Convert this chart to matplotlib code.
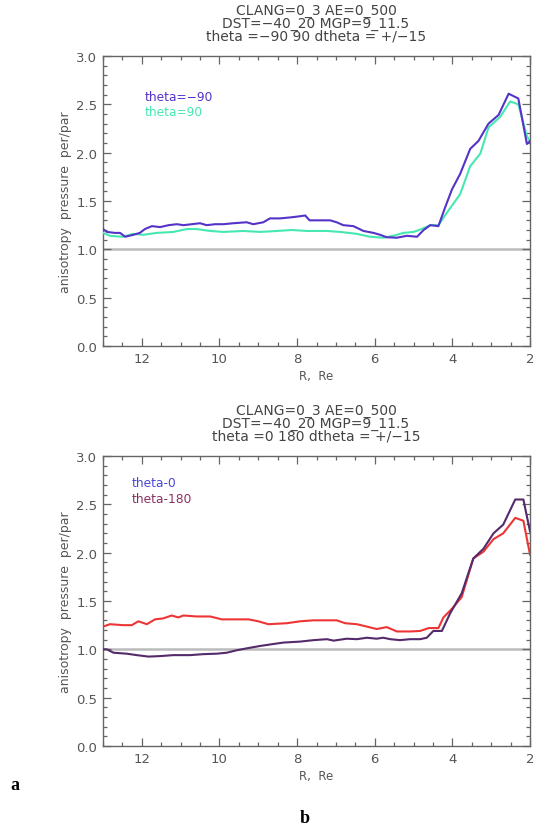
import numpy as np
import matplotlib
matplotlib.use('Agg')
import matplotlib.pyplot as plt
from matplotlib.ticker import MultipleLocator

# panel a: theta = -90 / 90
r_m90 = [13.0, 12.9, 12.69, 12.56, 12.43, 12.22, 12.05, 11.92, 11.74, 11.53, 11.31, 11.10, 10.93, 10.71,
         10.50, 10.33, 10.11, 9.90, 9.64, 9.30, 9.13, 8.87, 8.70, 8.44, 8.18, 7.97, 7.79, 7.68, 7.41, 7.15,
         6.98, 6.81, 6.55, 6.29, 6.03, 5.86, 5.69, 5.43, 5.17, 4.91, 4.74, 4.57, 4.36, 4.19, 4.01, 3.80,
         3.54, 3.33, 3.07, 2.81, 2.55, 2.30, 2.08, 2.0]
a_m90 = [1.21, 1.18, 1.17, 1.17, 1.13, 1.15, 1.17, 1.21, 1.24, 1.23, 1.25, 1.26, 1.25, 1.26,
         1.27, 1.25, 1.26, 1.26, 1.27, 1.28, 1.26, 1.28, 1.32, 1.32, 1.33, 1.34, 1.35, 1.30, 1.30, 1.30,
         1.28, 1.25, 1.24, 1.19, 1.17, 1.15, 1.125, 1.12, 1.14, 1.13, 1.20, 1.25, 1.24, 1.43, 1.62, 1.78,
         2.04, 2.12, 2.30, 2.39, 2.61, 2.56, 2.09, 2.12]

r_p90 = [13.0, 12.82, 12.5, 12.22, 11.96, 11.62, 11.19, 10.84, 10.59, 10.24, 9.90, 9.38, 8.95, 8.52,
         8.14, 7.75, 7.23, 6.89, 6.46, 6.12, 5.78, 5.52, 5.26, 5.00, 4.79, 4.57, 4.36, 4.14, 3.80, 3.54,
         3.28, 3.07, 2.77, 2.51, 2.30, 2.08, 2.0]
a_p90 = [1.17, 1.14, 1.13, 1.16, 1.15, 1.17, 1.18, 1.21, 1.21, 1.19, 1.18, 1.19, 1.18, 1.19,
         1.20, 1.19, 1.19, 1.18, 1.16, 1.13, 1.12, 1.14, 1.17, 1.18, 1.21, 1.25, 1.25, 1.38, 1.57, 1.86,
         1.99, 2.26, 2.37, 2.53, 2.50, 2.17, 2.12]

# panel b: theta = 0 / 180
r_0 = [13.0, 12.9, 12.73, 12.39, 12.13, 11.83, 11.53, 11.19, 10.76, 10.42, 10.07, 9.81, 9.56, 9.30,
       8.95, 8.70, 8.35, 7.92, 7.58, 7.23, 7.06, 6.72, 6.46, 6.20, 5.95, 5.78, 5.60, 5.35, 5.09, 4.83,
       4.66, 4.49, 4.27, 4.06, 3.76, 3.46, 3.20, 2.94, 2.69, 2.38, 2.17, 2.0]
a_0 = [1.0, 1.0, 0.965, 0.955, 0.94, 0.925, 0.93, 0.94, 0.94, 0.95, 0.955, 0.965, 0.99, 1.01,
       1.035, 1.05, 1.07, 1.08, 1.095, 1.105, 1.09, 1.11, 1.105, 1.12, 1.11, 1.12, 1.105, 1.095, 1.105, 1.105,
       1.12, 1.19, 1.19, 1.37, 1.58, 1.94, 2.04, 2.20, 2.29, 2.55, 2.55, 2.22]

r_180 = [13.0, 12.82, 12.48, 12.26, 12.09, 11.87, 11.66, 11.45, 11.23, 11.06, 10.93, 10.59, 10.24, 9.94,
         9.64, 9.25, 9.00, 8.74, 8.27, 7.92, 7.58, 7.32, 6.98, 6.76, 6.46, 6.20, 5.95, 5.69, 5.43, 5.09,
         4.83, 4.61, 4.36, 4.23, 4.01, 3.76, 3.46, 3.20, 2.94, 2.69, 2.38, 2.17, 2.0]
a_180 = [1.235, 1.26, 1.25, 1.25, 1.29, 1.26, 1.31, 1.32, 1.35, 1.33, 1.35, 1.34, 1.34, 1.31,
         1.31, 1.31, 1.29, 1.26, 1.27, 1.29, 1.30, 1.30, 1.30, 1.27, 1.26, 1.235, 1.21, 1.23, 1.185, 1.185,
         1.19, 1.22, 1.22, 1.33, 1.42, 1.54, 1.94, 2.01, 2.14, 2.20, 2.36, 2.33, 1.98]

titles_a = ['CLANG=0_3 AE=0_500', 'DST=\u221240_20 MGP=9_11.5', 'theta =\u221290 90 dtheta = +/\u221215']
titles_b = ['CLANG=0_3 AE=0_500', 'DST=\u221240_20 MGP=9_11.5', 'theta =0 180 dtheta = +/\u221215']

W, H = 539, 828
plt.rcParams['font.family'] = ['DejaVu Sans']
fig = plt.figure(figsize=(W / 100, H / 100), dpi=100)

axc = '#666666'
txc = '#555555'


def px(x, y):
    return x / W, 1 - y / H


def make_axes(top, bottom):
    left, right = 103, 530
    ax = fig.add_axes([left / W, 1 - bottom / H, (right - left) / W, (bottom - top) / H])
    ax.set_xlim(13, 2)
    ax.set_ylim(0, 3)
    ax.xaxis.set_major_locator(MultipleLocator(2))
    ax.xaxis.set_minor_locator(MultipleLocator(0.5))
    ax.yaxis.set_major_locator(MultipleLocator(0.5))
    ax.yaxis.set_minor_locator(MultipleLocator(0.1))
    ax.yaxis.set_major_formatter(matplotlib.ticker.FormatStrFormatter('%.1f'))
    ax.tick_params(which='both', direction='in', top=True, right=True, color=axc,
                   labelcolor=txc, labelsize=9.5, width=0.9)
    ax.tick_params(which='major', length=6, pad=4)
    ax.tick_params(which='minor', length=3)
    for s in ax.spines.values():
        s.set_color(axc)
        s.set_linewidth(1.0)
    ax.axhline(1.0, color='#bbbbbb', lw=1.8, zorder=1)
    ax.set_xlabel('R,  Re', fontsize=8.5, color=txc, labelpad=3)
    ax.set_ylabel('anisotropy  pressure  per/par', fontsize=9, color=txc, labelpad=3)
    return ax


# panel a
ax1 = make_axes(57, 347)
ax1.plot(r_p90, a_p90, color='#46e8b2', lw=1.5, zorder=3)
ax1.plot(r_m90, a_m90, color='#5533c8', lw=1.5, zorder=4)
ax1.text(0.098, 0.86, 'theta=\u221290', transform=ax1.transAxes, color='#5533c8', fontsize=8.8, va='center')
ax1.text(0.098, 0.807, 'theta=90', transform=ax1.transAxes, color='#46e8b2', fontsize=8.8, va='center')
for i, t in enumerate(titles_a):
    fig.text(*px(316, 11 + 13 * i), t, ha='center', va='center', fontsize=10, color='#444444')

# panel b
ax2 = make_axes(457, 747)
ax2.plot(r_180, a_180, color='#ee3535', lw=1.5, zorder=3)
ax2.plot(r_0, a_0, color='#552a6a', lw=1.5, zorder=4)
ax2.text(0.068, 0.91, 'theta-0', transform=ax2.transAxes, color='#4a48d8', fontsize=8.8, va='center')
ax2.text(0.068, 0.855, 'theta-180', transform=ax2.transAxes, color='#8a3060', fontsize=8.8, va='center')
for i, t in enumerate(titles_b):
    fig.text(*px(316, 411 + 13 * i), t, ha='center', va='center', fontsize=10, color='#444444')

fig.text(*px(15, 786), 'a', fontsize=13, fontweight='bold', family='Liberation Serif', ha='center', va='center')
fig.text(*px(305, 819), 'b', fontsize=13, fontweight='bold', family='Liberation Serif', ha='center', va='center')

fig.savefig('out.png', dpi=100)
